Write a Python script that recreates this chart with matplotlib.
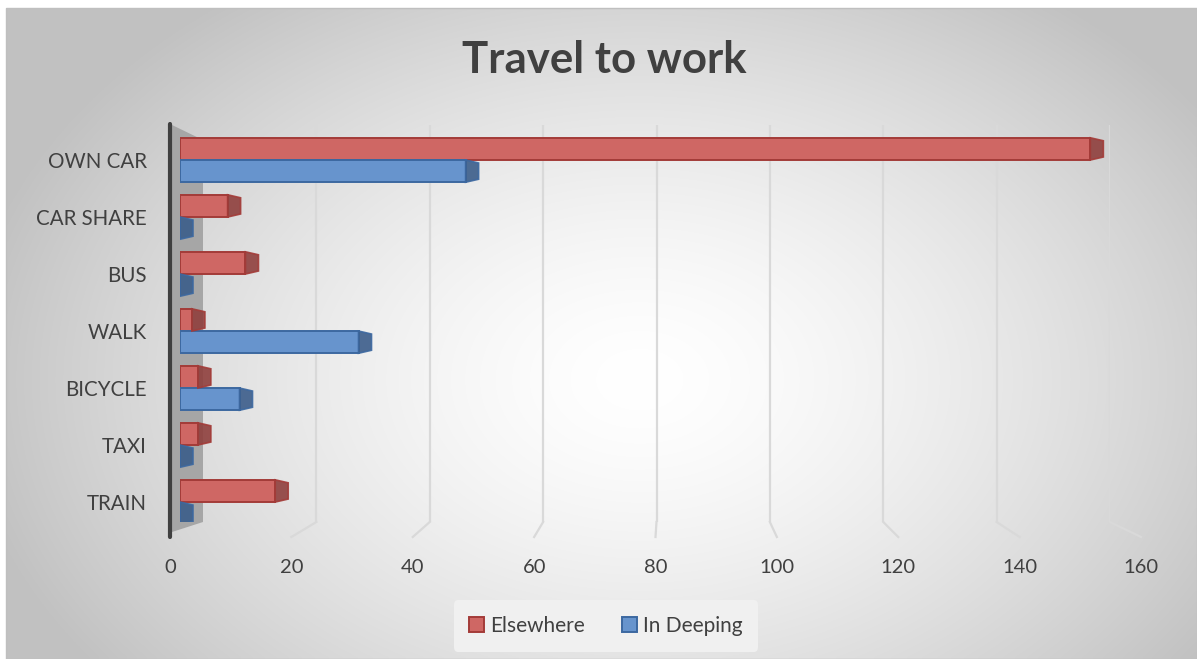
import numpy as np
import matplotlib
matplotlib.use("Agg")
import matplotlib.pyplot as plt
from matplotlib.patches import Polygon, Patch, Rectangle

# ---------------- data ----------------
categories = ["OWN CAR", "CAR SHARE", "BUS", "WALK", "BICYCLE", "TAXI", "TRAIN"]
elsewhere = [153, 8, 11, 2, 3, 3, 16]
in_deeping = [48, 0, 0, 30, 10, 0, 0]
series_names = ["Elsewhere", "In Deeping"]
x_ticks = [0, 20, 40, 60, 80, 100, 120, 140, 160]
title = "Travel to work"

W, H = 1197, 659
FONT = ["Lato", "DejaVu Sans"]
TXT = "#404040"

fig = plt.figure(figsize=(W / 100, H / 100), dpi=100)
fig.patch.set_facecolor("white")

def fx(x):
    return x / W

def fy(y):
    return 1 - y / H

def rect(x0, y0, x1, y1):
    return [fx(x0), fy(y1), fx(x1) - fx(x0), fy(y0) - fy(y1)]

# ---------------- background (pixel coordinate axes) ----------------
bg = fig.add_axes([0, 0, 1, 1])
bg.set_xlim(0, W)
bg.set_ylim(H, 0)
bg.axis("off")
cx, cy = 640, 380
gx, gy = np.meshgrid(np.linspace(6, W, 300), np.linspace(8, H, 180))
r = np.sqrt(((gx - cx) / 680.0) ** 2 + ((gy - cy) / 480.0) ** 2)
t = np.clip(r, 0, 1) ** 1.5
val = 1.0 - t * (1.0 - 0.76)
img = np.dstack([val, val, val])
bg.imshow(img, extent=(6, W, H, 8), aspect="auto", interpolation="bilinear", zorder=0)
bg.add_patch(Rectangle((6, 8), W - 6, H - 8, fill=False, edgecolor="#bfbfbf", lw=1, zorder=1))

# ---------------- back wall gridlines ----------------
BACK = (203, 125, 1110, 522)
FRONT = (170, 537, 1141, 538)
axb = fig.add_axes(rect(*BACK))
axb.set_xlim(0, 160)
axb.set_ylim(0, 1)
axb.axis("off")
axb.patch.set_alpha(0)
for v in x_ticks[1:]:
    axb.plot([v, v], [0, 1], color="#d9d9d9", lw=1.6, solid_capstyle="butt")

axf = fig.add_axes(rect(*FRONT))
axf.set_xlim(0, 160)
axf.set_ylim(0, 1)
axf.patch.set_alpha(0)
for s in axf.spines.values():
    s.set_visible(False)
axf.set_yticks([])
axf.set_xticks(x_ticks)
axf.set_xticklabels([str(v) for v in x_ticks], fontsize=14.5, color=TXT, family=FONT)
axf.tick_params(axis="x", length=0, pad=15)

# floor lines from back wall to front edge
inv = bg.transData.inverted()
for v in x_ticks[1:]:
    p0 = inv.transform(axb.transData.transform((v, 0)))
    p1 = inv.transform(axf.transData.transform((v, 1)))
    bg.plot([p0[0], p1[0]], [p0[1], p1[1]], color="#d9d9d9", lw=1.6, zorder=2)

# left wall
bg.add_patch(Polygon([(172, 125), (203, 140), (203, 522), (172, 532)], closed=True,
                     facecolor="#a6a6a6", edgecolor="none", zorder=3))
bg.plot([170, 170], [124, 537], color="#404040", lw=3, solid_capstyle="round", zorder=4)

# ---------------- bars ----------------
ax = fig.add_axes(rect(180, 125, 1132, 522))
ax.patch.set_alpha(0)
ax.set_xlim(0, 160)
ax.set_ylim(6.35, -0.614)
for s in ax.spines.values():
    s.set_visible(False)
ax.set_xticks([])

ypos = np.arange(len(categories))
h = 0.39
styles = [
    dict(face="#cf6764", edge="#a33b38", cap="#8f3f3d"),
    dict(face="#6794cd", edge="#3c68a0", cap="#3b5d8a"),
]
dx = 13 / 5.95      # depth offset in data units
dyt = 3 / 57.0

for k, vals in enumerate([elsewhere, in_deeping]):
    st = styles[k]
    yc = ypos - h / 2 if k == 0 else ypos + h / 2
    ax.barh(yc, vals, height=h, color=st["face"], edgecolor=st["edge"], lw=1.4, zorder=3)
    for yy, v in zip(yc, vals):
        top, bot = yy - h / 2, yy + h / 2
        ax.add_patch(Polygon([(v, top), (v + dx, top + dyt), (v + dx, bot - dyt), (v, bot)],
                             closed=True, facecolor=st["cap"], edgecolor=st["edge"], lw=1.2,
                             alpha=0.9, zorder=4))

ax.set_yticks(ypos)
ax.set_yticklabels(categories, fontsize=14.8, color=TXT, family=FONT)
ax.tick_params(axis="y", length=0, pad=24)

# ---------------- title ----------------
fig.text(fx(604), fy(60), title, ha="center", va="center", fontsize=31.5,
         fontweight="bold", color=TXT, family=FONT)

# ---------------- legend ----------------
handles = [Patch(facecolor=styles[i]["face"], edgecolor=styles[i]["edge"], lw=1.4)
           for i in range(2)]
leg = fig.legend(handles, series_names, loc="center", bbox_to_anchor=(fx(606), fy(626)),
                 ncol=2, frameon=True, handlelength=0.7, handleheight=0.7,
                 handletextpad=0.3, columnspacing=1.8, borderpad=0.75, borderaxespad=0,
                 prop={"family": FONT, "size": 15})
leg.get_frame().set_facecolor("#f0f0f0")
leg.get_frame().set_edgecolor("none")
leg.get_frame().set_alpha(1)
for txt in leg.get_texts():
    txt.set_color(TXT)

fig.savefig("out.png", dpi=100)
